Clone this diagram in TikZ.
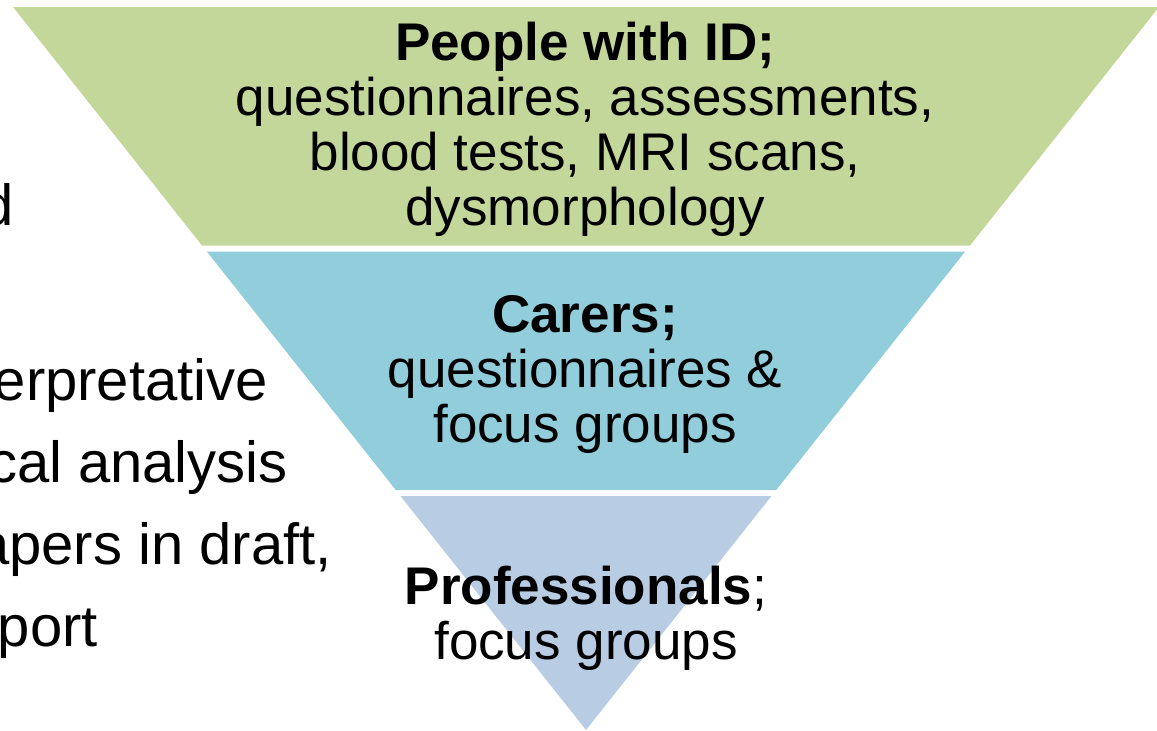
\documentclass[tikz,border=0pt]{standalone}
\usepackage{fontspec}
\setmainfont{Liberation Sans}
\definecolor{bandgreen}{RGB}{196,215,155}
\definecolor{bandblue}{RGB}{146,205,220}
\definecolor{bandlight}{RGB}{184,204,228}
\begin{document}
\begin{tikzpicture}[x=1pt,y=-1pt,
  bandtext/.style={inner sep=0pt, align=center, text=black},
  maintext/.style={bandtext, font=\fontsize{53}{55}\selectfont},
  sidetext/.style={inner sep=0pt, anchor=base east, text=black, font=\fontsize{58}{60}\selectfont}]
\useasboundingbox (0,0) rectangle (1157,731);
\clip (0,0) rectangle (1157,731);
% bands of the inverted triangle
\fill[bandgreen] (13,7) -- (1159,7) -- (970.0,245.5) -- (202.0,245.5) -- cycle;
\fill[bandblue] (206.8,251.5) -- (965.2,251.5) -- (776.2,490) -- (395.8,490) -- cycle;
\fill[bandlight] (400.5,496) -- (771.5,496) -- (586,730) -- cycle;
% band texts
\node[maintext] (people) at (585,129.5) {\textbf{People with ID;}\\questionnaires, assessments,\\blood tests, MRI scans,\\dysmorphology};
\node[maintext] (carers) at (585,374) {\textbf{Carers;}\\questionnaires \&\\focus groups};
\node[maintext] (prof) at (586,618.5) {\textbf{Professionals};\\focus groups};
% clipped text on the left
\node[sidetext] (l1) at (14,225) {d};
\node[sidetext] (l2) at (268,400) {erpretative};
\node[sidetext] (l3) at (288,482) {cal analysis};
\node[sidetext] (l4) at (332,564) {apers in draft,};
\node[sidetext] (l5) at (98,646) {port};
\end{tikzpicture}
\end{document}
